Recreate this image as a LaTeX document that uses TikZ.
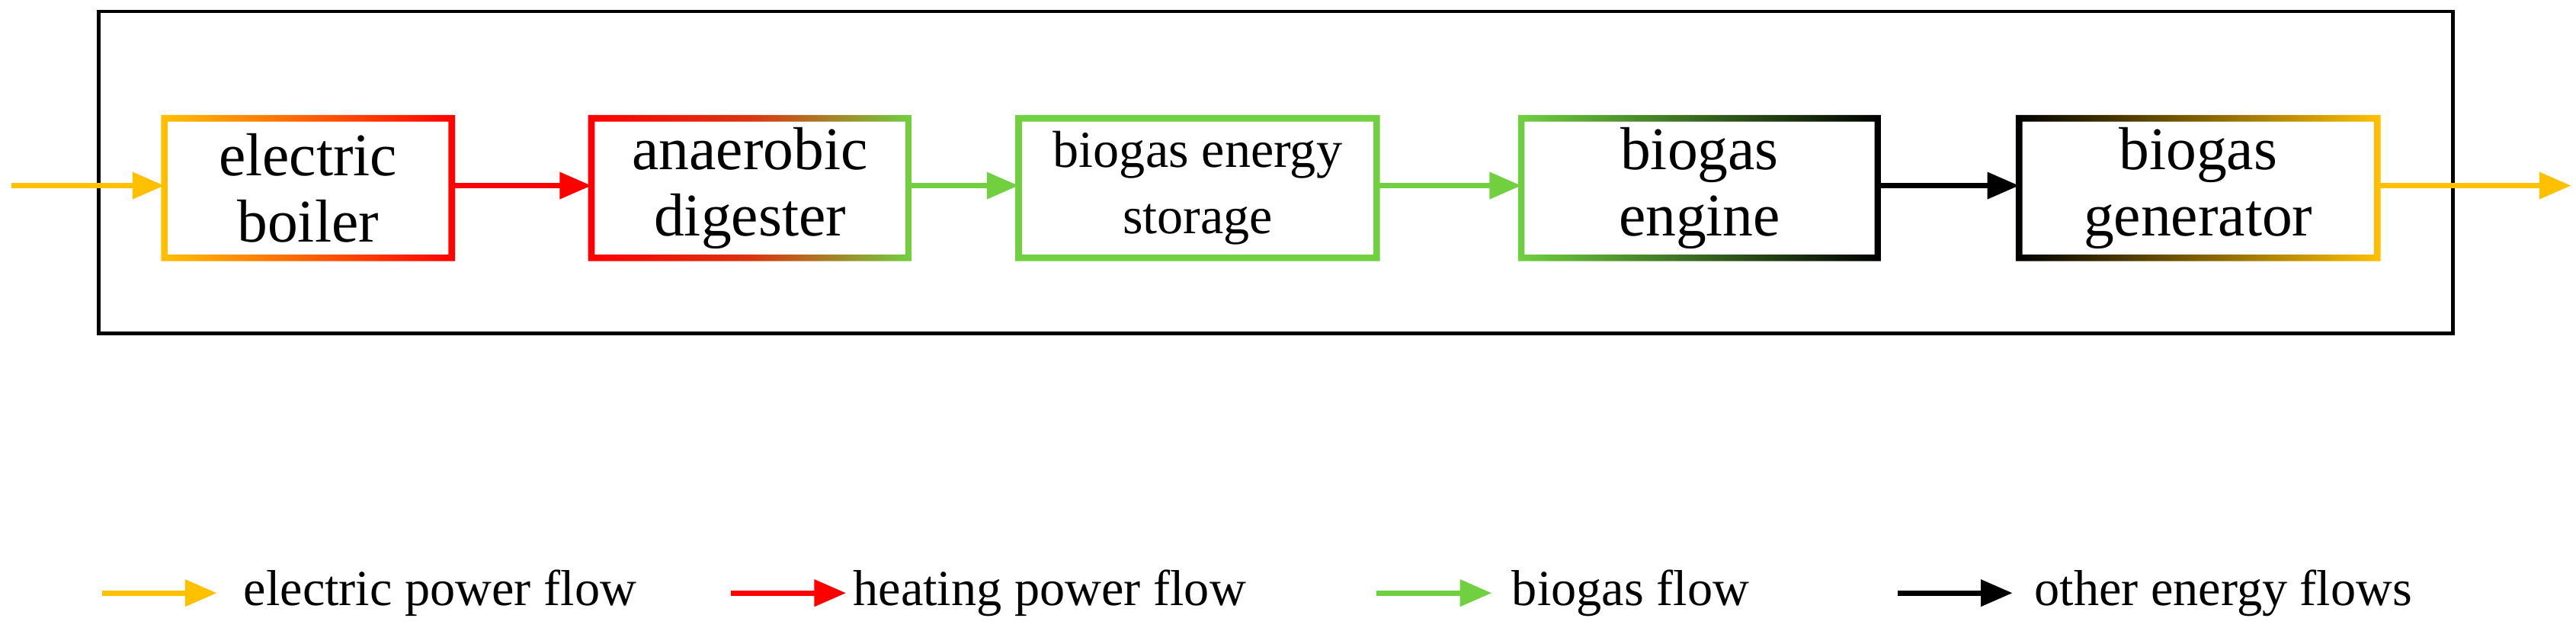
\documentclass[tikz,border=0pt]{standalone}
\usepackage{fontspec}
\setmainfont{Liberation Serif}
\usetikzlibrary{arrows.meta}
\definecolor{eo}{HTML}{FFC000}
\definecolor{hr}{HTML}{FF0000}
\definecolor{bg}{HTML}{70D040}
\begin{document}
\begin{tikzpicture}[x=0.02cm,y=-0.02cm,
  flow/.style={line width=1.8pt,-{Triangle[length=11pt,width=9pt]}},
  lab/.style={font=\fontsize{21}{23}\selectfont,align=center},
  lab2/.style={font=\fontsize{18}{23}\selectfont,align=center},
  leg/.style={font=\fontsize{17.5}{20}\selectfont,anchor=west,inner sep=0}]
\useasboundingbox (0,0) rectangle (1568,384);
\draw[line width=1.2pt] (60,7) rectangle (1493,203);
\newcommand{\gbox}[5]{%
  \shade[left color=#3,right color=#4,#5,even odd rule] (#1-2,72-2) rectangle (#2+2,157+2) (#1+2,72+2) rectangle (#2-2,157-2);}
\gbox{100}{275}{eo}{hr}{}
\gbox{360}{553}{hr}{bg}{middle color=hr!75!bg}
\gbox{620}{838}{bg}{bg}{}
\gbox{926}{1143}{bg}{black}{}
\gbox{1229}{1447}{black}{eo}{}
\node[lab,minimum width=170,minimum height=80] (b1) at (187.5,114.5) {electric\\boiler};
\node[lab,minimum width=190,minimum height=80] (b2) at (456.5,114.5) {anaerobic\\digester};
\node[lab2,minimum width=215,minimum height=80] (b3) at (729,114.5) {biogas energy\\storage};
\node[lab,minimum width=215,minimum height=80] (b4) at (1034.5,114.5) {biogas\\engine};
\node[lab,minimum width=215,minimum height=80] (b5) at (1338,114.5) {biogas\\generator};
\coordinate (in) at (7,113);
\coordinate (out) at (1565,113);
\draw[flow,eo] (in) -- (100,113);
\draw[flow,hr] (275,113) -- (360,113);
\draw[flow,bg] (553,113) -- (620,113);
\draw[flow,bg] (838,113) -- (926,113);
\draw[flow,black] (1143,113) -- (1229,113);
\draw[flow,eo] (1447,113) -- (out);
\coordinate (l1a) at (62,361); \coordinate (l1b) at (132,361);
\coordinate (l2a) at (445,361); \coordinate (l2b) at (515,361);
\coordinate (l3a) at (838,361); \coordinate (l3b) at (908,361);
\coordinate (l4a) at (1155,361); \coordinate (l4b) at (1225,361);
\draw[flow,eo] (l1a) -- (l1b);
\draw[flow,hr] (l2a) -- (l2b);
\draw[flow,bg] (l3a) -- (l3b);
\draw[flow,black] (l4a) -- (l4b);
\node[leg] (t1) at (148,361) {electric power flow};
\node[leg] (t2) at (519,361) {heating power flow};
\node[leg] (t3) at (920,361) {biogas flow};
\node[leg] (t4) at (1238,361) {other energy flows};
\end{tikzpicture}
\end{document}
